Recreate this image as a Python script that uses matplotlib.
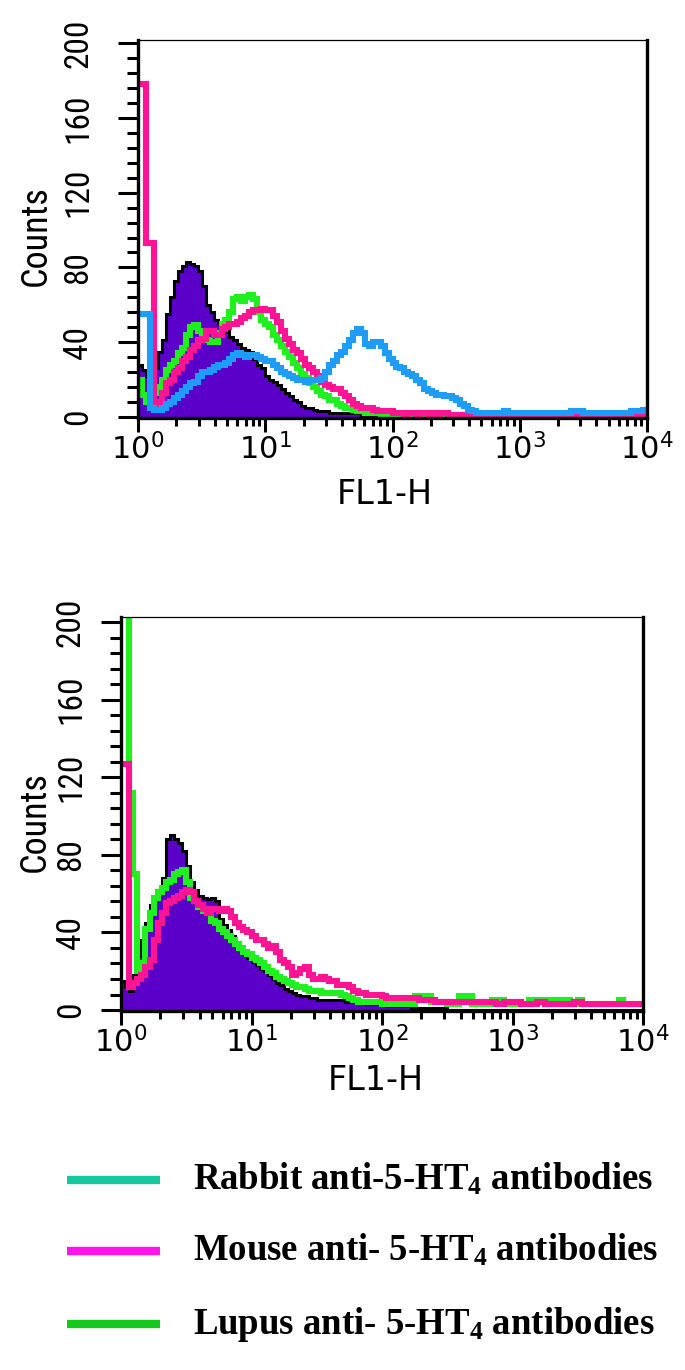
import numpy as np
import matplotlib
matplotlib.use('Agg')
import matplotlib.pyplot as plt
from matplotlib.ticker import MultipleLocator, LogLocator, NullFormatter
from matplotlib.lines import Line2D

# flow cytometry histograms: 128 log channels over 4 decades (32 per decade)
N_CH = 128
edges = np.logspace(0, 4, N_CH + 1)

# ---- top panel ----
top_control = [
    28, 25, 22, 20, 26, 35, 41, 55, 64, 73, 78, 81, 83, 82, 81, 78,
    70, 60, 56, 52, 50, 47, 46, 43, 41, 39, 37, 36, 35, 31, 28, 26,
    22, 20, 19, 17, 15, 13, 11, 9, 8, 6, 5, 5, 4, 3, 3, 3,
    2, 2, 2, 2, 2, 2, 2, 2, 1, 1, 1, 1, 1, 1, 1, 1,
    1, 0, 0, 0, 0, 0, 0, 0, 0, 0, 0, 0, 0, 0, 0, 0,
    0, 0, 0, 0, 0, 0, 0, 0, 0, 0, 0, 0, 0, 0, 0, 0,
    0, 0, 0, 0, 0, 0, 0, 0, 0, 0, 0, 0, 0, 0, 0, 0,
    0, 0, 0, 0, 0, 0, 0, 0, 0, 0, 0, 0, 0, 0, 0, 0,
]
top_lupus = [
    20, 12, 8, 10, 13, 16, 20, 25, 28, 30, 34, 37, 44, 48, 49, 46,
    45, 41, 40, 40, 45, 50, 52, 56, 63, 64, 62, 64, 65, 63, 56, 52,
    50, 48, 44, 41, 38, 35, 32, 29, 26, 23, 21, 18, 16, 14, 12, 11,
    9, 9, 7, 6, 5, 5, 4, 3, 3, 2, 2, 2, 2, 1, 1, 1,
    1, 1, 1, 1, 1, 1, 1, 1, 1, 1, 1, 0, 0, 0, 0, 0,
    0, 0, 0, 0, 0, 0, 0, 0, 0, 0, 0, 0, 0, 0, 0, 0,
    0, 0, 0, 0, 0, 0, 0, 0, 0, 0, 0, 0, 0, 0, 0, 0,
    0, 0, 0, 0, 0, 0, 0, 0, 0, 0, 0, 0, 0, 0, 0, 0,
]
top_mouse = [
    178, 178, 93, 93, 7, 8, 13, 18, 20, 24, 26, 30, 32, 36, 38, 41,
    42, 46, 46, 44, 44, 47, 48, 50, 50, 51, 53, 54, 56, 57, 57, 58,
    57, 57, 54, 51, 46, 42, 39, 36, 34, 31, 28, 26, 24, 22, 19, 17,
    16, 15, 15, 13, 11, 9, 7, 6, 5, 5, 5, 4, 3, 3, 3, 3,
    2, 2, 2, 1, 2, 2, 1, 2, 2, 1, 2, 1, 2, 2, 1, 1,
    1, 1, 1, 1, 1, 1, 1, 0, 0, 0, 0, 0, 0, 0, 0, 0,
    0, 0, 0, 0, 0, 0, 0, 0, 0, 0, 0, 0, 0, 0, 0, 0,
    0, 0, 0, 0, 0, 0, 0, 0, 0, 0, 0, 0, 0, 0, 0, 0,
]
top_rabbit = [
    55, 55, 55, 5, 4, 4, 5, 7, 8, 10, 12, 14, 16, 18, 19, 22,
    24, 24, 25, 27, 28, 28, 29, 31, 33, 34, 33, 32, 33, 33, 32, 31,
    30, 30, 28, 26, 24, 23, 22, 21, 20, 20, 19, 20, 20, 20, 21, 24,
    28, 30, 33, 35, 38, 41, 45, 47, 45, 39, 38, 40, 40, 38, 34, 31,
    29, 27, 26, 24, 23, 22, 20, 18, 15, 14, 13, 12, 12, 11, 11, 10,
    9, 7, 6, 4, 3, 2, 2, 2, 2, 2, 2, 2, 3, 2, 2, 2,
    2, 2, 2, 2, 2, 2, 2, 2, 2, 2, 2, 2, 2, 3, 3, 3,
    2, 2, 2, 2, 2, 2, 2, 2, 2, 2, 2, 2, 3, 3, 3, 4,
]

# ---- bottom panel ----
bot_control = [
    15, 12, 10, 18, 28, 36, 45, 54, 58, 62, 68, 88, 90, 88, 86, 82,
    74, 66, 62, 59, 58, 57, 58, 56, 47, 44, 41, 38, 35, 32, 29, 27,
    25, 23, 21, 20, 18, 16, 14, 13, 11, 10, 9, 8, 7, 7, 6, 6,
    5, 5, 5, 5, 5, 5, 5, 4, 4, 4, 4, 4, 3, 3, 3, 3,
    3, 2, 2, 2, 2, 2, 2, 1, 1, 1, 1, 1, 1, 1, 1, 1,
    0, 0, 0, 0, 0, 0, 0, 0, 0, 0, 0, 0, 0, 0, 0, 0,
    0, 0, 0, 0, 0, 0, 0, 0, 0, 0, 0, 0, 0, 0, 0, 0,
    0, 0, 0, 0, 0, 0, 0, 0, 0, 0, 0, 0, 0, 0, 0, 0,
]
bot_lupus = [
    230, 230, 112, 70, 20, 24, 42, 50, 58, 61, 63, 66, 67, 70, 71, 72,
    66, 58, 56, 53, 51, 50, 46, 45, 42, 40, 38, 36, 34, 32, 30, 29,
    27, 26, 24, 22, 20, 19, 17, 16, 15, 14, 13, 12, 12, 11, 10, 10,
    10, 9, 9, 9, 9, 9, 8, 7, 6, 5, 4, 4, 4, 4, 4, 4,
    3, 3, 3, 3, 3, 3, 3, 3, 7, 7, 7, 7, 4, 4, 4, 4,
    3, 3, 3, 7, 7, 7, 3, 3, 3, 3, 3, 5, 5, 5, 3, 3,
    3, 3, 3, 3, 5, 5, 5, 5, 5, 5, 5, 5, 5, 5, 3, 3,
    5, 3, 3, 3, 3, 3, 3, 3, 3, 3, 5, 3, 3, 3, 3, 3,
]
bot_mouse = [
    127, 127, 12, 14, 16, 18, 22, 26, 36, 45, 50, 55, 56, 58, 59, 61,
    62, 61, 56, 54, 52, 50, 52, 52, 51, 52, 51, 48, 45, 43, 41, 40,
    38, 36, 36, 34, 32, 33, 30, 26, 24, 22, 18, 19, 21, 22, 18, 16,
    16, 17, 16, 15, 15, 13, 13, 13, 12, 10, 9, 9, 8, 8, 8, 8,
    7, 6, 6, 6, 6, 6, 6, 6, 6, 5, 5, 5, 5, 4, 4, 4,
    4, 4, 4, 4, 4, 4, 4, 4, 4, 4, 4, 4, 3, 3, 4, 4,
    4, 4, 3, 3, 3, 3, 4, 4, 3, 3, 3, 3, 3, 3, 3, 4,
    4, 3, 3, 3, 3, 3, 3, 3, 3, 3, 3, 3, 3, 3, 3, 3,
]

legend_labels = [
    r'Rabbit anti-5-HT$\mathregular{_4}$ antibodies',
    r'Mouse anti- 5-HT$\mathregular{_4}$ antibodies',
    r'Lupus anti- 5-HT$\mathregular{_4}$ antibodies',
]
decades = [0, 1, 2, 3, 4]

PURPLE = '#5a00c8'
GREEN = '#20f020'
PINK = '#ff1493'
BLUE = '#1e9cf8'
LEG_COLORS = ['#14c8a0', '#ff14f0', '#14c81e']

NARROW = ['Liberation Sans Narrow', 'Roboto Condensed', 'Liberation Sans']
W, H = 685, 1370

fig = plt.figure(figsize=(6.85, 13.7), dpi=100)
fig.patch.set_facecolor('white')


def px_axes(left, top, right, bottom):
    return fig.add_axes([left / W, 1 - bottom / H, (right - left) / W, (bottom - top) / H])


def style_axes(ax, ytop, ypad):
    ax.set_xscale('log')
    ax.set_xlim(1, 1e4)
    ax.set_ylim(-0.5, ytop)
    ax.set_xticks([10.0 ** d for d in decades])
    ax.set_xticklabels([r'$\mathregular{10^{%d}}$' % d for d in decades])
    ax.xaxis.set_minor_locator(LogLocator(base=10, subs=np.arange(2, 10), numticks=20))
    ax.xaxis.set_minor_formatter(NullFormatter())
    ax.set_yticks(range(0, 201, 40))
    ax.yaxis.set_minor_locator(MultipleLocator(8))
    ax.tick_params(axis='x', which='major', length=10, width=2.2, pad=1, labelsize=22)
    ax.tick_params(axis='x', which='minor', length=6, width=2.2)
    ax.tick_params(axis='y', which='major', length=14.5, width=2.2, pad=ypad,
                   labelsize=24, labelrotation=90)
    ax.tick_params(axis='y', which='minor', length=8, width=2.2)
    for lab in ax.get_yticklabels():
        lab.set_family(NARROW)
        lab.set_va('center')
    for side in ['left', 'bottom', 'right']:
        ax.spines[side].set_linewidth(2.4)
    ax.spines['top'].set_linewidth(0.9)


def hist_line(ax, vals, color, lw=4.4):
    ax.stairs(vals, edges, color=color, lw=lw, baseline=None, joinstyle='miter')


# top panel
ax1 = px_axes(138, 40, 647, 418)
ax1.stairs(top_control, edges, fill=True, color=PURPLE)
hist_line(ax1, top_control, 'black', lw=2.2)
hist_line(ax1, top_lupus, GREEN)
hist_line(ax1, top_mouse, PINK)
hist_line(ax1, top_rabbit, BLUE)
style_axes(ax1, 201.6, 17)

# bottom panel
ax2 = px_axes(121, 617, 643, 1011)
ax2.stairs(bot_control, edges, fill=True, color=PURPLE)
hist_line(ax2, bot_control, 'black', lw=2.2)
hist_line(ax2, bot_lupus, GREEN)
hist_line(ax2, bot_mouse, PINK)
style_axes(ax2, 202.6, 10)

# axis titles
for (cx, cy) in [(36, 236), (35, 822)]:
    fig.text(cx / W, 1 - cy / H, 'Counts', rotation=90, ha='center', va='center',
             fontsize=26, family=NARROW)
for (cx, cy) in [(385, 494), (376, 1080)]:
    fig.text(cx / W, 1 - cy / H, 'FL1-H', ha='center', va='center', fontsize=24)

# legend drawn below the panels
for i, (lab, col) in enumerate(zip(legend_labels, LEG_COLORS)):
    ly = [1180, 1251, 1324][i]
    fig.add_artist(Line2D([67 / W, 160 / W], [1 - ly / H] * 2, color=col, lw=6,
                          solid_capstyle='butt'))
    fig.text(193 / W, 1 - (ly + 10) / H, lab, ha='left', va='baseline',
             fontsize=26.5, family='Liberation Serif', fontweight='bold')

plt.savefig('out.png', dpi=100, facecolor='white')
plt.close()
